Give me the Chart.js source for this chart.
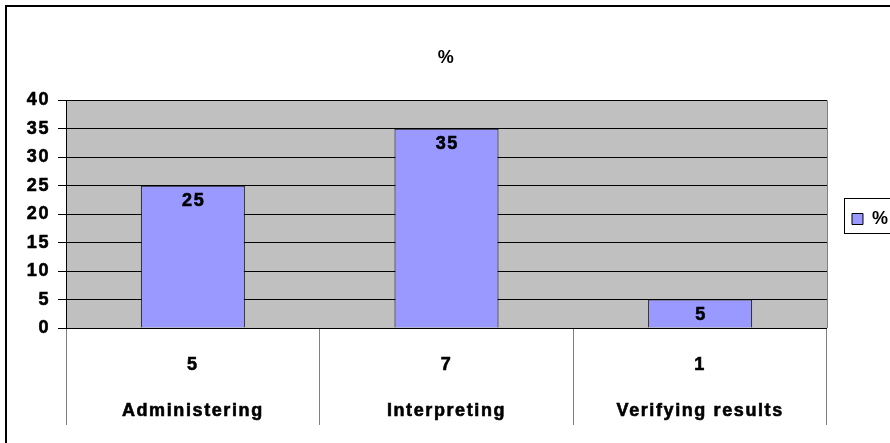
<!DOCTYPE html>
<html>
<head>
<meta charset="utf-8">
<script src="https://cdn.jsdelivr.net/npm/chart.js@4/dist/chart.umd.min.js"></script>
<style>
  html, body { margin: 0; padding: 0; background: #fff; }
  #wrap { width: 890px; height: 443px; overflow: hidden; position: relative; }
  canvas { display: block; }
</style>
</head>
<body>
<div id="wrap"><canvas id="c" width="940" height="460" style="width:940px;height:460px"></canvas></div>
<script>
const counts = ["5", "7", "1"];
const names = ["Administering", "Interpreting", "Verifying results"];
const values = [25, 35, 5];
const seriesName = "%";
const yTicks = [0, 5, 10, 15, 20, 25, 30, 35, 40];

const FONT = "'Liberation Sans', Arial, sans-serif";
const labels = counts.map((c, i) => [c, names[i]]);

const framePlugin = {
  id: 'frame',
  beforeDraw(chart) {
    const { ctx, chartArea: a } = chart;
    ctx.save();
    ctx.fillStyle = '#fff';
    ctx.fillRect(0, 0, chart.width, chart.height);
    ctx.fillStyle = '#C0C0C0';
    ctx.fillRect(a.left, a.top, a.right - a.left, a.bottom - a.top);
    ctx.restore();
    ctx.letterSpacing = '1.6px';
  },
  afterDraw(chart) {
    const { ctx, chartArea: a } = chart;
    ctx.save();
    // outer border
    ctx.strokeStyle = '#000';
    ctx.lineWidth = 2;
    ctx.strokeRect(6, 6, chart.width + 20, chart.height + 20);
    // right edge of plot area
    ctx.strokeStyle = '#808080';
    ctx.lineWidth = 1;
    const rx = Math.round(a.right) + 0.5;
    ctx.beginPath();
    ctx.moveTo(rx, a.top);
    ctx.lineTo(rx, a.bottom);
    ctx.stroke();
    // legend frame
    const lg = chart.legend;
    if (lg && lg.legendHitBoxes && lg.legendHitBoxes.length) {
      const hb = lg.legendHitBoxes[0];
      const cy = hb.top + hb.height / 2;
      ctx.strokeStyle = '#000';
      ctx.lineWidth = 1;
      ctx.strokeRect(Math.round(hb.left - 8) + 0.5, Math.round(cy - 21) + 0.5, 200, 35);
    }
    ctx.restore();
  },
  afterDatasetsDraw(chart) {
    const { ctx } = chart;
    const meta = chart.getDatasetMeta(0);
    ctx.save();
    ctx.fillStyle = '#000';
    ctx.strokeStyle = '#000';
    ctx.lineWidth = 0.6;
    ctx.font = 'bold 18px ' + FONT;
    ctx.textAlign = 'center';
    ctx.textBaseline = 'middle';
    meta.data.forEach((bar, i) => {
      const t = String(values[i]);
      ctx.fillText(t, bar.x + 0.8, bar.y + 15);
      ctx.strokeText(t, bar.x + 0.8, bar.y + 15);
    });
    ctx.restore();
  }
};

new Chart(document.getElementById('c'), {
  type: 'bar',
  data: {
    labels: labels,
    datasets: [{
      label: seriesName,
      data: values,
      backgroundColor: '#9999FF',
      borderColor: '#000',
      borderWidth: 1,
      categoryPercentage: 1.0,
      barPercentage: 0.41
    }]
  },
  options: {
    responsive: false,
    animation: false,
    devicePixelRatio: 1,
    layout: { padding: { left: 10, right: 42, top: 0, bottom: 22 } },
    plugins: {
      title: {
        display: true,
        fullSize: false,
        text: '%',
        color: '#000',
        font: { family: FONT, size: 18, weight: 'bold' },
        padding: { top: 47, bottom: 31.8 }
      },
      legend: {
        display: true,
        position: 'right',
        labels: {
          color: '#000',
          font: { family: FONT, size: 18, weight: 'bold' },
          boxWidth: 11,
          boxHeight: 11,
          padding: 25
        }
      },
      tooltip: { enabled: false }
    },
    scales: {
      y: {
        min: 0,
        max: 40,
        afterBuildTicks(scale) { scale.ticks = yTicks.map(v => ({ value: v })); },
        afterFit(scale) { scale.width = 56; },
        ticks: {
          color: '#000',
          font: { family: FONT, size: 18, weight: 'bold' },
          padding: 8,
          textStrokeColor: '#000',
          textStrokeWidth: 0.6
        },
        grid: {
          color: '#000',
          lineWidth: 1,
          drawTicks: true,
          tickLength: 8
        },
        border: { display: true, color: '#000', width: 1 }
      },
      x: {
        afterFit(scale) { scale.height = 110; },
        ticks: {
          color: '#000',
          font: { family: FONT, size: 18, weight: 'bold', lineHeight: 2.556 },
          padding: -83,
          maxRotation: 0,
          autoSkip: false,
          textStrokeColor: '#000',
          textStrokeWidth: 0.6
        },
        grid: {
          offset: true,
          drawOnChartArea: false,
          drawTicks: true,
          tickLength: 97,
          color: '#808080',
          lineWidth: 1
        },
        border: { display: true, color: '#000', width: 1 }
      }
    }
  },
  plugins: [framePlugin]
});
</script>
</body>
</html>
